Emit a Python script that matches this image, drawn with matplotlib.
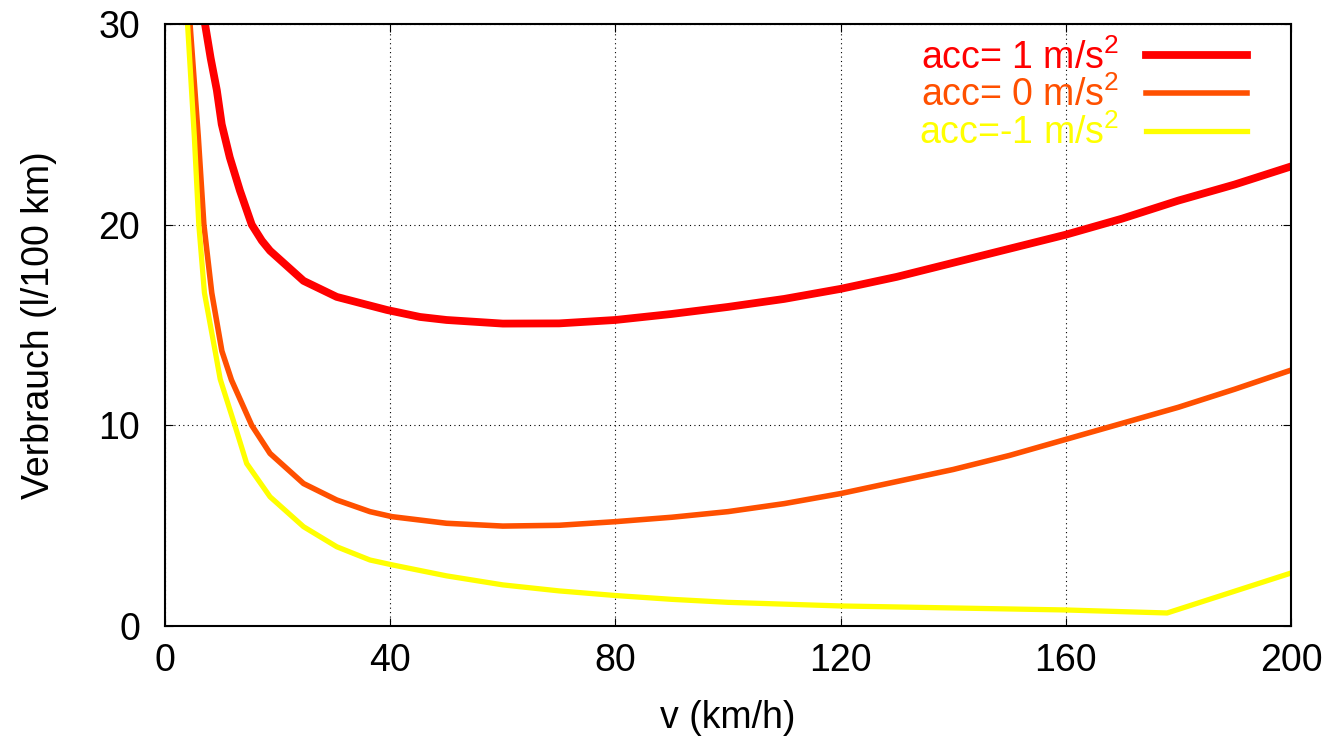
import numpy as np
import matplotlib.pyplot as plt

plt.rcParams['font.family'] = ['Liberation Sans', 'DejaVu Sans']
plt.rcParams['mathtext.fontset'] = 'custom'
plt.rcParams['mathtext.rm'] = 'Liberation Sans'
plt.rcParams['mathtext.it'] = 'Liberation Sans'

# speed (km/h) and consumption (l/100 km)
v_p1 = [7.1, 8.1, 9.2, 10.07, 11.5, 13.3, 15.4, 17.2, 18.65, 24.6, 30.5, 39.4, 45.3, 50, 60, 70, 80, 90, 100,
        110, 120, 130, 140, 150, 160, 170, 180, 190, 200]
c_p1 = [30.0, 28.3, 26.7, 25.0, 23.35, 21.7, 20.0, 19.2, 18.7, 17.2, 16.4, 15.75, 15.4, 15.25, 15.07, 15.08, 15.25,
        15.55, 15.9, 16.3, 16.8, 17.4, 18.1, 18.8, 19.5, 20.3, 21.2, 22.0, 22.9]

v_0 = [4.44, 5.9, 6.9, 8.3, 10.1, 11.8, 15.4, 18.65, 24.6, 30.5, 36.4, 40.3, 50, 60, 70, 80, 90, 100,
       110, 120, 130, 140, 150, 160, 170, 180, 190, 200]
c_0 = [30.0, 24.4, 20.0, 16.6, 13.7, 12.26, 10.0, 8.6, 7.1, 6.28, 5.7, 5.45, 5.12, 4.98, 5.02, 5.2, 5.42, 5.7,
       6.1, 6.6, 7.2, 7.8, 8.5, 9.3, 10.1, 10.9, 11.8, 12.75]

v_m1 = [4.0, 5.2, 6.0, 7.0, 8.9, 9.8, 12.4, 14.5, 18.65, 24.6, 30.5, 36.4, 40.3, 50, 60, 70, 80, 90, 100,
        120, 140, 160, 178, 200]
c_m1 = [30.0, 24.4, 20.0, 16.6, 13.7, 12.3, 10.0, 8.1, 6.44, 4.95, 3.95, 3.29, 3.05, 2.5, 2.05, 1.75, 1.52, 1.33, 1.18,
        1.0, 0.9, 0.8, 0.65, 2.64]

labels = ['acc= 1 m/s$^2$', 'acc= 0 m/s$^2$', 'acc=-1 m/s$^2$']
colors = ['#ff0000', '#ff5000', '#ffff00']

fig = plt.figure(figsize=(13.32, 7.42), dpi=100)
ax = fig.add_axes([0.1239, 0.1563, 0.9692 - 0.1239, 0.9677 - 0.1563])

ax.plot(v_p1, c_p1, color=colors[0], linewidth=5.6, label=labels[0])
ax.plot(v_0, c_0, color=colors[1], linewidth=4.0, label=labels[1])
ax.plot(v_m1, c_m1, color=colors[2], linewidth=3.8, label=labels[2])

ax.set_xlim(0, 200)
ax.set_ylim(0, 30)
ax.set_xticks([0, 40, 80, 120, 160, 200])
ax.set_yticks([0, 10, 20, 30])
ax.grid(True, color='black', linestyle=(0, (1, 3)), linewidth=0.8)
ax.tick_params(direction='in', top=True, right=True, length=6, labelsize=27)
ax.tick_params(axis='x', pad=12)
ax.tick_params(axis='y', pad=18)
for s in ax.spines.values():
    s.set_linewidth(1.5)

ax.set_xlabel('v (km/h)', fontsize=27, labelpad=15)
ax.set_ylabel('Verbrauch (l/100 km)', fontsize=27, labelpad=30)

leg = ax.legend(loc='upper right', frameon=False, markerfirst=False, fontsize=27,
                handlelength=2.7, handletextpad=0.7, labelspacing=0.0,
                borderaxespad=0, borderpad=0, bbox_to_anchor=(0.961, 0.975))
for t, c in zip(leg.get_texts(), colors):
    t.set_color(c)

fig.savefig('out.png', dpi=100)
